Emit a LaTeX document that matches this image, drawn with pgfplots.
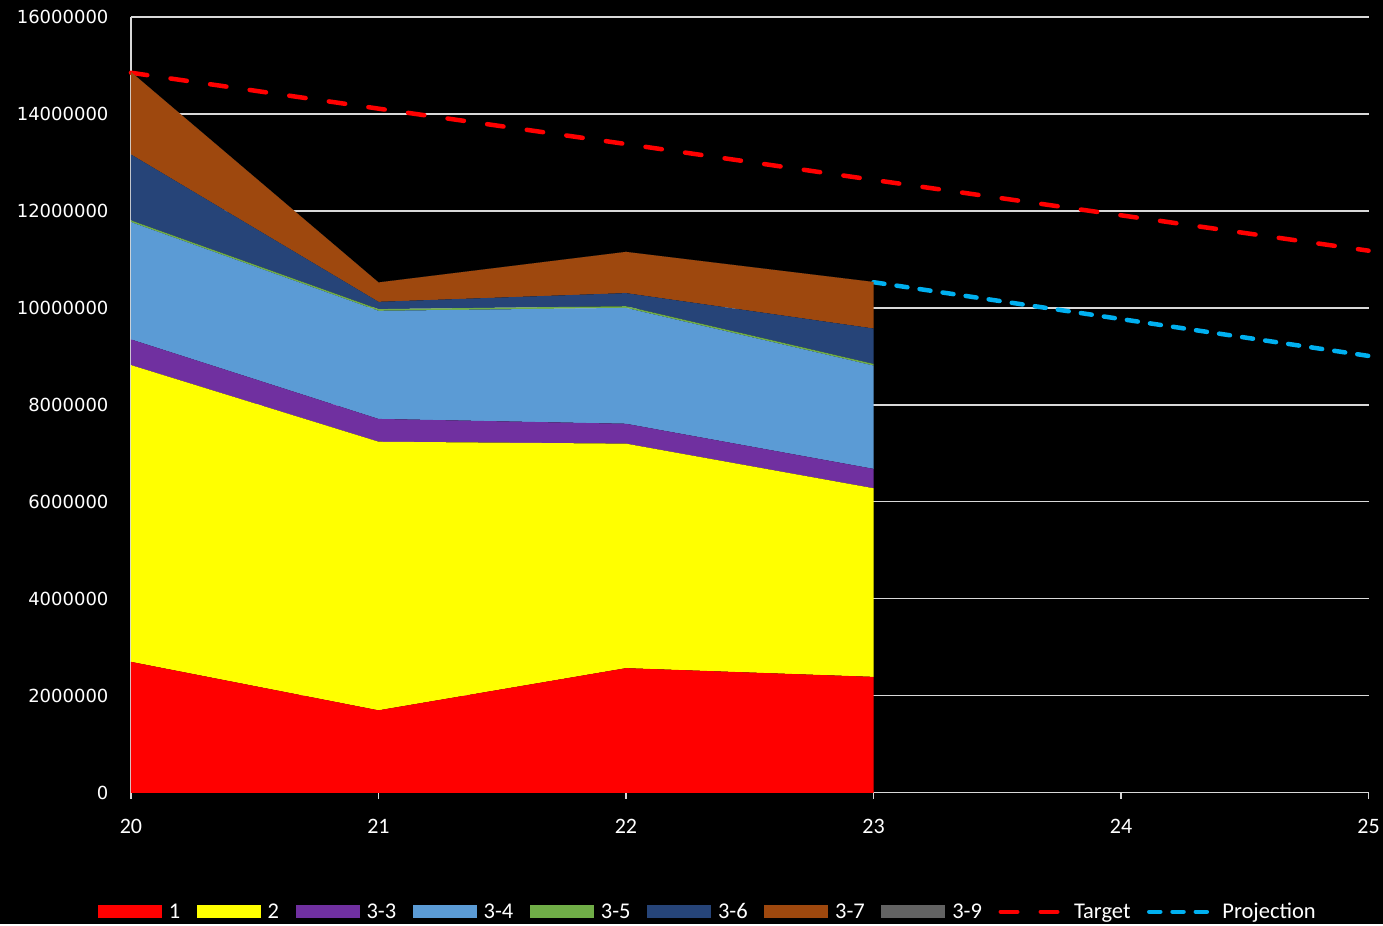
\documentclass[border=0pt]{standalone}
\usepackage{pgfplots}
\pgfplotsset{compat=1.18}
\usepackage{fontspec}
\setmainfont{Carlito}
\newfontfamily\dejavu{DejaVu Sans}
\definecolor{c1}{HTML}{FF0000}
\definecolor{c2}{HTML}{FFFF00}
\definecolor{c33}{HTML}{7030A0}
\definecolor{c34}{HTML}{5B9BD5}
\definecolor{c35}{HTML}{70AD47}
\definecolor{c36}{HTML}{264478}
\definecolor{c37}{HTML}{9E480E}
\definecolor{c39}{HTML}{636363}
\definecolor{proj}{HTML}{00B0F0}
\definecolor{gridc}{HTML}{D9D9D9}
\pgfplotsset{
  myarea/.style={draw=none, fill=#1, legend image code/.code={\fill[#1] (0pt,-6.5pt) rectangle (64pt,6.5pt);}},
  myline/.style={legend image code/.code={\draw[##1] (0pt,0pt) -- (64pt,0pt);}},
}
\begin{document}
\begin{tikzpicture}
\fill[black] (-131pt,-131pt) rectangle (1252pt,793pt);
\begin{axis}[
  scale only axis, width=1238pt, height=776pt,
  at={(0pt,0pt)}, anchor=south west,
  xmin=20, xmax=25, ymin=0, ymax=16000000,
  xtick={20,21,22,23,24,25},
  ytick={0,2000000,4000000,6000000,8000000,10000000,12000000,14000000,16000000},
  scaled ticks=false,
  /pgf/number format/.cd, fixed, precision=0, 1000 sep={}, assume math mode=true,
  /pgfplots/.cd,
  axis x line*=bottom, axis y line*=left,
  axis line style={gridc, line width=1.3pt},
  ymajorgrids, grid style={gridc, line width=1.3pt},
  tick align=outside, major tick length=6pt,
  xtick style={gridc, line width=1.3pt},
  ytick style={draw=none},
  xticklabel style={font=\fontsize{22}{22}\selectfont, text=white, yshift=-17pt},
  yticklabel style={font=\dejavu\fontsize{18}{18}\selectfont, text=white, xshift=-13pt},
  stack plots=y,
  legend columns=-1,
  legend style={at={(0.4665,-0.1534)}, anchor=center, draw=none, fill=none,
    text=white, font=\fontsize{22.5}{22.5}\selectfont,
    /tikz/every odd column/.append style={column sep=4pt},
    /tikz/every even column/.append style={column sep=13.5pt},
    nodes={inner sep=3pt}},
  clip=false,
]
\addplot[myarea=c1] coordinates {(20,2700000) (21,1700000) (22,2570000) (23,2390000)} \closedcycle;
\addlegendentry{1}
\addplot[myarea=c2] coordinates {(20,6120000) (21,5540000) (22,4630000) (23,3890000)} \closedcycle;
\addlegendentry{2}
\addplot[myarea=c33] coordinates {(20,530000) (21,470000) (22,410000) (23,400000)} \closedcycle;
\addlegendentry{3-3}
\addplot[myarea=c34] coordinates {(20,2420000) (21,2230000) (22,2390000) (23,2130000)} \closedcycle;
\addlegendentry{3-4}
\addplot[myarea=c35] coordinates {(20,35000) (21,35000) (22,35000) (23,35000)} \closedcycle;
\addlegendentry{3-5}
\addplot[myarea=c36] coordinates {(20,1360000) (21,150000) (22,270000) (23,730000)} \closedcycle;
\addlegendentry{3-6}
\addplot[myarea=c37] coordinates {(20,1700000) (21,400000) (22,850000) (23,960000)} \closedcycle;
\addlegendentry{3-7}
\addplot[myarea=c39] coordinates {(20,0) (21,0) (22,0) (23,0)} \closedcycle;
\addlegendentry{3-9}
\addplot[stack plots=false, myline, c1, line width=4.5pt, line cap=round, dash pattern=on 16.5pt off 23.5pt] coordinates {(20,14850000) (21,14110000) (22,13380000) (23,12640000) (24,11910000) (25,11180000)};
\addlegendentry{Target}
\addplot[stack plots=false, myline, proj, line width=4.5pt, line cap=round, dash pattern=on 11pt off 12.3pt] coordinates {(23,10530000) (24,9770000) (25,9010000)};
\addlegendentry{Projection}
\end{axis}
\end{tikzpicture}
\end{document}
